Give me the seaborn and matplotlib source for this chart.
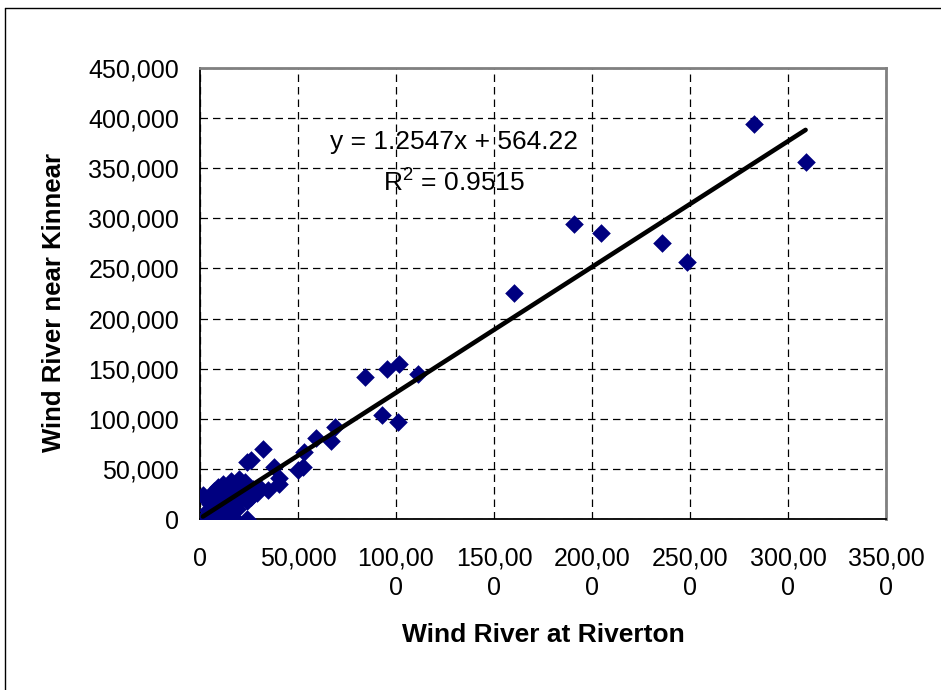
import numpy as np
import pandas as pd
import matplotlib
matplotlib.use("Agg")
import matplotlib.pyplot as plt
import seaborn as sns
from matplotlib.lines import Line2D

# =========================
# Data (annual flows)
# =========================
riverton = [
    282500, 309000, 190800, 204800, 235900, 248300, 160000,
    84100, 95200, 101700, 111200, 93100, 101200, 68900, 59300, 66900,
    53300, 52500, 50000, 32300, 26000, 23900, 37600, 40500, 40500, 34800,
    2000, 4000, 7000, 9000, 12000, 14000, 16000, 18000, 24000,
    1500, 3000, 5000, 4000, 6000, 8000, 10000, 7000, 9000, 11000,
    12000, 14000, 15000, 16000, 18000, 19000, 20000, 21000, 22000, 17000,
    23000, 25000, 27000, 29000, 30000, 26000, 13000, 19000, 11000, 3000,
    6000, 10000, 14000, 20000, 24000,
]
kinnear = [
    394000, 356000, 294600, 285000, 275000, 256600, 225600,
    141600, 150000, 155000, 145000, 103300, 96700, 92000, 81000, 77600,
    67300, 52300, 49000, 69600, 59000, 57000, 52000, 40600, 35000, 29000,
    0, 0, 0, 0, 0, 0, 0, 0, 0,
    24000, 20000, 15000, 9000, 5000, 12000, 18000, 28000, 32000, 27000,
    35000, 22000, 30000, 38000, 34000, 25000, 40000, 20000, 30000, 15000,
    37000, 27000, 30000, 26000, 32000, 22000, 8000, 10000, 5000, 3000,
    22000, 24000, 31000, 33000, 18000,
]

# trendline reported on the chart
slope = 1.2547
intercept = 564.22

y_ticks = [0, 50000, 100000, 150000, 200000, 250000, 300000, 350000, 400000, 450000]
x_ticks = [0, 50000, 100000, 150000, 200000, 250000, 300000, 350000]
x_tick_labels = ["0", "50,000", "100,00\n0", "150,00\n0", "200,00\n0",
                 "250,00\n0", "300,00\n0", "350,00\n0"]

df = pd.DataFrame({"riverton": riverton, "kinnear": kinnear})
fit = pd.DataFrame({"riverton": [df["riverton"].min(), df["riverton"].max()]})
fit["kinnear"] = slope * fit["riverton"] + intercept

# =========================
# Plot
# =========================
sns.set_theme(style="white")
plt.rcParams["font.family"] = ["Liberation Sans", "DejaVu Sans"]
plt.rcParams["mathtext.fontset"] = "custom"
plt.rcParams["mathtext.rm"] = "Liberation Sans"
for key in ["text.color", "axes.labelcolor", "xtick.color", "ytick.color"]:
    plt.rcParams[key] = "black"

fig = plt.figure(figsize=(9.41, 6.9), dpi=100)
ax = fig.add_axes([0.2125, 0.2478, 0.729, 0.6536])

sns.scatterplot(data=df, x="riverton", y="kinnear", marker="D", s=90,
                color="#000080", linewidth=0, ax=ax, zorder=3)
sns.lineplot(data=fit, x="riverton", y="kinnear", color="black", lw=3.3, ax=ax, zorder=4)

ax.set_xlim(0, 350000)
ax.set_ylim(0, 450000)
ax.set_xticks(x_ticks)
ax.set_xticklabels(x_tick_labels, fontsize=18, linespacing=1.3)
ax.set_yticks(y_ticks)
ax.set_yticklabels([f"{v:,}" for v in y_ticks], fontsize=18)

ax.grid(True, color="black", linestyle=(0, (6, 4)), lw=0.9)
ax.tick_params(axis="both", direction="out", length=5, width=1, color="black")
ax.tick_params(axis="x", pad=15)
ax.tick_params(axis="y", pad=10)

for side in ["left", "bottom"]:
    ax.spines[side].set_color("black")
    ax.spines[side].set_linewidth(1.3)
for side in ["top", "right"]:
    ax.spines[side].set_color("#808080")
    ax.spines[side].set_linewidth(2)

ax.set_xlabel("Wind River at Riverton", fontsize=19, fontweight="bold", va="center")
ax.set_ylabel("Wind River near Kinnear", fontsize=18.5, fontweight="bold", va="center")
ax.xaxis.set_label_coords(0.5, (519 - 635) / 451)
ax.yaxis.set_label_coords((54 - 200) / 686, (519 - 302) / 451)

ax.text(0.37, (519 - 142) / 451, "y = 1.2547x + 564.22", transform=ax.transAxes,
        fontsize=19, ha="center", va="center")
ax.text(0.37, (519 - 182) / 451, r"R$^{2}$ = 0.9515", transform=ax.transAxes,
        fontsize=19, ha="center", va="center")

# chart area frame (left and top edges visible in the crop)
fig.add_artist(Line2D([5 / 941, 5 / 941], [0, 1 - 8 / 690], transform=fig.transFigure,
                      color="black", lw=1))
fig.add_artist(Line2D([5 / 941, 1], [1 - 8 / 690, 1 - 8 / 690], transform=fig.transFigure,
                      color="black", lw=1))

fig.savefig("out.png", dpi=100, facecolor="white")
